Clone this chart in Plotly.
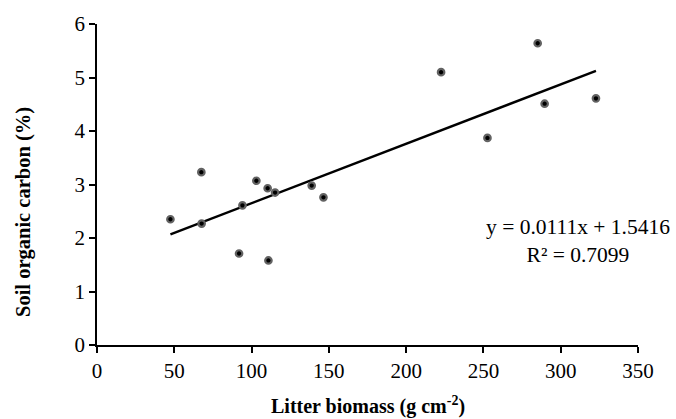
import plotly.graph_objects as go

# Data
litter_biomass = [47.5, 67.5, 67.7, 91.9, 94.1, 103.1, 110.4, 110.9, 115.2,
                  138.9, 146.5, 222.6, 252.6, 285.1, 289.6, 322.8]
soil_carbon = [2.35, 3.23, 2.27, 1.71, 2.61, 3.07, 2.93, 1.58, 2.85,
               2.98, 2.76, 5.10, 3.87, 5.64, 4.51, 4.61]
slope = 0.0111
intercept = 1.5416
r_squared = 0.7099
x_ticks = [0, 50, 100, 150, 200, 250, 300, 350]
y_ticks = [0, 1, 2, 3, 4, 5, 6]

FONT = "Liberation Serif"

x_fit = [min(litter_biomass), max(litter_biomass)]
y_fit = [slope * v + intercept for v in x_fit]

fig = go.Figure()
fig.add_trace(go.Scatter(
    x=x_fit, y=y_fit, mode="lines",
    line=dict(color="black", width=2.4),
    showlegend=False, hoverinfo="skip",
))
fig.add_trace(go.Scatter(
    x=litter_biomass, y=soil_carbon, mode="markers",
    marker=dict(size=6.5, color="black", line=dict(color="#626262", width=2.2)),
    showlegend=False,
))

fig.update_layout(
    width=676, height=419,
    margin=dict(l=97, r=38, t=21, b=74, pad=0),
    plot_bgcolor="white", paper_bgcolor="white",
    font=dict(family=FONT, size=21, color="black"),
    xaxis=dict(
        range=[0, 350], tickvals=x_ticks, ticktext=[str(v) for v in x_ticks],
        showgrid=False, zeroline=False,
        showline=True, linecolor="black", linewidth=1.6,
        ticks="outside", ticklen=6, tickwidth=1.6, tickcolor="black",
        tickfont=dict(family=FONT, size=21, color="black"),
    ),
    yaxis=dict(
        range=[0, 6], tickvals=y_ticks, ticktext=[str(v) for v in y_ticks],
        showgrid=False, zeroline=False,
        showline=True, linecolor="black", linewidth=1.6,
        ticks="outside", ticklen=6, tickwidth=1.6, tickcolor="black",
        tickfont=dict(family=FONT, size=21, color="black"),
    ),
    annotations=[
        dict(
            text=f"y = {slope}x + {intercept}<br>R² = {r_squared}",
            xref="paper", yref="paper", x=0.889, y=0.324,
            xanchor="center", yanchor="middle", align="center",
            showarrow=False, font=dict(family=FONT, size=21.5, color="black"),
        ),
        dict(
            text="<b>Litter biomass (g cm<sup>-2</sup>)</b>",
            xref="paper", yref="paper", x=0.5, y=-0.19,
            xanchor="center", yanchor="middle",
            showarrow=False, font=dict(family=FONT, size=20, color="black"),
        ),
        dict(
            text="<b>Soil organic carbon (%)</b>",
            xref="paper", yref="paper", x=-0.137, y=0.414,
            xanchor="center", yanchor="middle", textangle=-90,
            showarrow=False, font=dict(family=FONT, size=20.5, color="black"),
        ),
    ],
)

fig.write_html(
    "out.html",
    config={"displayModeBar": False},
    post_script="document.body.style.margin='0';document.body.style.overflow='hidden';",
)
